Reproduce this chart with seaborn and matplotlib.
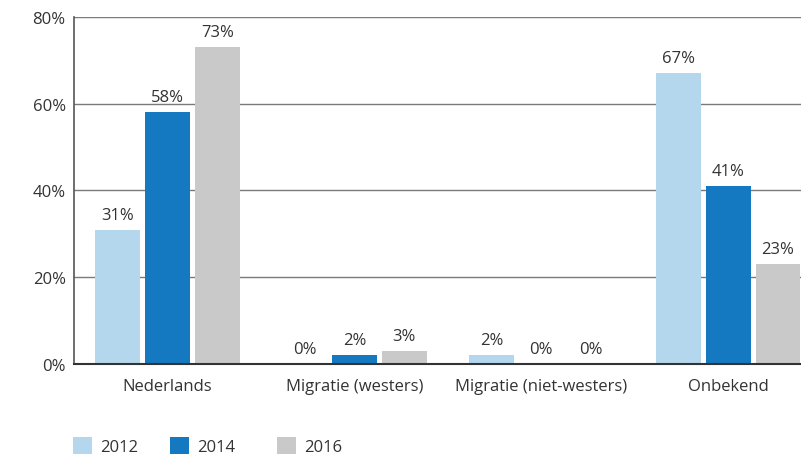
import matplotlib
matplotlib.use("Agg")
import matplotlib.pyplot as plt
from matplotlib.patches import Patch
import seaborn as sns
import pandas as pd

categories = ["Nederlands", "Migratie (westers)", "Migratie (niet-westers)", "Onbekend"]
years = ["2012", "2014", "2016"]
values_2012 = [31, 0, 2, 67]
values_2014 = [58, 2, 0, 41]
values_2016 = [73, 3, 0, 23]
colors = ["#b4d7ee", "#1479c0", "#c9c9c9"]

df = pd.DataFrame({
    "categorie": categories * 3,
    "jaar": [y for y in years for _ in categories],
    "waarde": values_2012 + values_2014 + values_2016,
})

sns.set_theme(style="white")
plt.rcParams["font.family"] = ["Open Sans", "DejaVu Sans"]
text_color = "#333333"
fs = 12

fig = plt.figure(figsize=(8.01, 4.56), dpi=100)
ax = fig.add_axes([0.0924, 0.1996, 0.9076, 0.7609])

sns.barplot(data=df, x="categorie", y="waarde", hue="jaar", hue_order=years,
            palette=colors, width=0.8, gap=0.1, saturation=1, ax=ax,
            legend=False, errorbar=None, linewidth=0)

ax.set_xlim(-0.5, 3.39)
ax.set_ylim(0, 80)
ax.set_yticks([0, 20, 40, 60, 80])
ax.set_yticklabels([f"{t}%" for t in [0, 20, 40, 60, 80]])
ax.set_xlabel("")
ax.set_ylabel("")
ax.grid(axis="y", color="#7a7a7a", linewidth=1)
ax.set_axisbelow(True)
for s in ["top", "right"]:
    ax.spines[s].set_visible(False)
ax.spines["left"].set_color("#555555")
ax.spines["left"].set_linewidth(1.2)
ax.spines["bottom"].set_color("#333333")
ax.spines["bottom"].set_linewidth(1.5)
ax.tick_params(axis="both", length=0, labelsize=fs, colors=text_color)
ax.tick_params(axis="x", pad=10)
ax.tick_params(axis="y", pad=6)

for container in ax.containers:
    ax.bar_label(container, labels=[f"{v:.0f}%" for v in container.datavalues],
                 padding=5, fontsize=fs, color=text_color)

# one legend entry per year, placed along the bottom edge
legend_x = [73, 170, 277]
for year, color, px in zip(years, colors, legend_x):
    fig.legend([Patch(facecolor=color, edgecolor="none")], [year],
               loc="lower left", bbox_to_anchor=(px / 801, 0.0),
               borderaxespad=0, borderpad=0,
               frameon=False, fontsize=fs, handlelength=1.15, handleheight=1.15,
               handletextpad=0.45, labelcolor=text_color)

fig.savefig("out.png", dpi=100)
